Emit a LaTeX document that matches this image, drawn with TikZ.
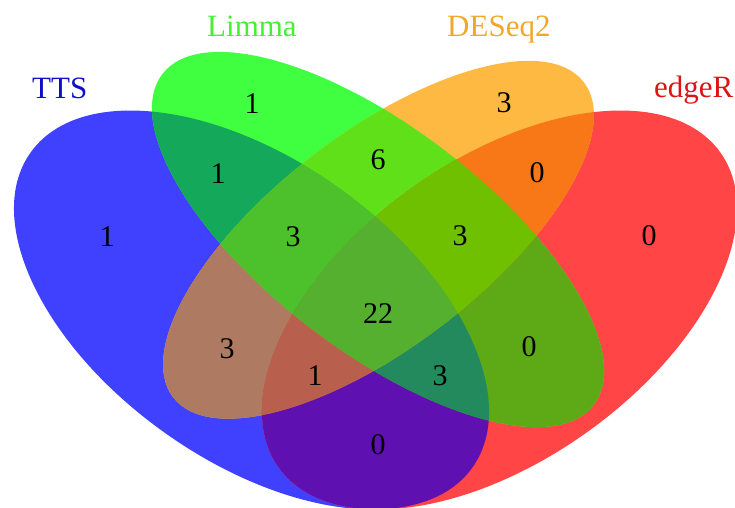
\documentclass[tikz,border=0pt]{standalone}
\usepackage{fontspec}
\setmainfont{Liberation Serif}
\definecolor{cB}{HTML}{4040FF}
\definecolor{cG}{HTML}{40FF40}
\definecolor{cO}{HTML}{FDB942}
\definecolor{cR}{HTML}{FF4545}
\definecolor{cBG}{HTML}{14A85A}
\definecolor{cBO}{HTML}{AE7A62}
\definecolor{cBR}{HTML}{5E10B0}
\definecolor{cGO}{HTML}{5FE019}
\definecolor{cGR}{HTML}{5EAA16}
\definecolor{cOR}{HTML}{F87818}
\definecolor{cBGO}{HTML}{4CC12C}
\definecolor{cBGR}{HTML}{228A5C}
\definecolor{cBOR}{HTML}{B8604D}
\definecolor{cGOR}{HTML}{6EC000}
\definecolor{cAll}{HTML}{56B030}
\definecolor{tB}{HTML}{1010C8}
\definecolor{tG}{HTML}{44F030}
\definecolor{tO}{HTML}{F0A828}
\definecolor{tR}{HTML}{DC1414}
\newcommand\pT{(251.5,310) ellipse [x radius=271.3pt, y radius=150.3pt, rotate=-35.5]}
\newcommand\pR{(499.5,310) ellipse [x radius=271.3pt, y radius=150.3pt, rotate=35.5]}
\newcommand\pG{(378,239.5) ellipse [x radius=271.8pt, y radius=111.3pt, rotate=-37.5]}
\newcommand\pO{(378.5,239.75) ellipse [x radius=258.8pt, y radius=106.8pt, rotate=37.5]}
\tikzset{
  num/.style={text=black, inner sep=0pt, font=\fontsize{30}{36}\selectfont},
  setlabel/.style={inner sep=0pt, anchor=base west, font=\fontsize{31}{37}\selectfont}
}
\begin{document}
\begin{tikzpicture}[x=1pt,y=-1pt]
\useasboundingbox (0,0) rectangle (735,507);
\clip (0,0) rectangle (735,507);
% single sets
\fill[cB] \pT;
\fill[cR] \pR;
\fill[cG] \pG;
\fill[cO] \pO;
% pairs
\begin{scope}\clip \pT; \fill[cBG] \pG; \end{scope}
\begin{scope}\clip \pT; \fill[cBO] \pO; \end{scope}
\begin{scope}\clip \pT; \fill[cBR] \pR; \end{scope}
\begin{scope}\clip \pG; \fill[cGO] \pO; \end{scope}
\begin{scope}\clip \pG; \fill[cGR] \pR; \end{scope}
\begin{scope}\clip \pO; \fill[cOR] \pR; \end{scope}
% triples
\begin{scope}\clip \pT; \clip \pG; \fill[cBGO] \pO; \end{scope}
\begin{scope}\clip \pT; \clip \pG; \fill[cBGR] \pR; \end{scope}
\begin{scope}\clip \pT; \clip \pO; \fill[cBOR] \pR; \end{scope}
\begin{scope}\clip \pG; \clip \pO; \fill[cGOR] \pR; \end{scope}
% all four
\begin{scope}\clip \pT; \clip \pG; \clip \pO; \fill[cAll] \pR; \end{scope}
% set labels
\node[setlabel, text=tB] (lT) at (32,98) {TTS};
\node[setlabel, text=tG] (lG) at (207,36) {Limma};
\node[setlabel, text=tO] (lO) at (447,36) {DESeq2};
\node[setlabel, text=tR] (lR) at (654,97) {edgeR};
% counts
\node[num] (nB) at (107,237) {1};
\node[num] (nG) at (252,104) {1};
\node[num] (nO) at (504,103) {3};
\node[num] (nR) at (649,236) {0};
\node[num] (nBG) at (218,174) {1};
\node[num] (nGO) at (378,160) {6};
\node[num] (nOR) at (537,173) {0};
\node[num] (nBGO) at (293,237) {3};
\node[num] (nGOR) at (460,236) {3};
\node[num] (nAll) at (378,314) {22};
\node[num] (nBO) at (227,349) {3};
\node[num] (nGR) at (529,347) {0};
\node[num] (nBOR) at (315,376) {1};
\node[num] (nBGR) at (440,376) {3};
\node[num] (nBR) at (378,445) {0};
\end{tikzpicture}
\end{document}
